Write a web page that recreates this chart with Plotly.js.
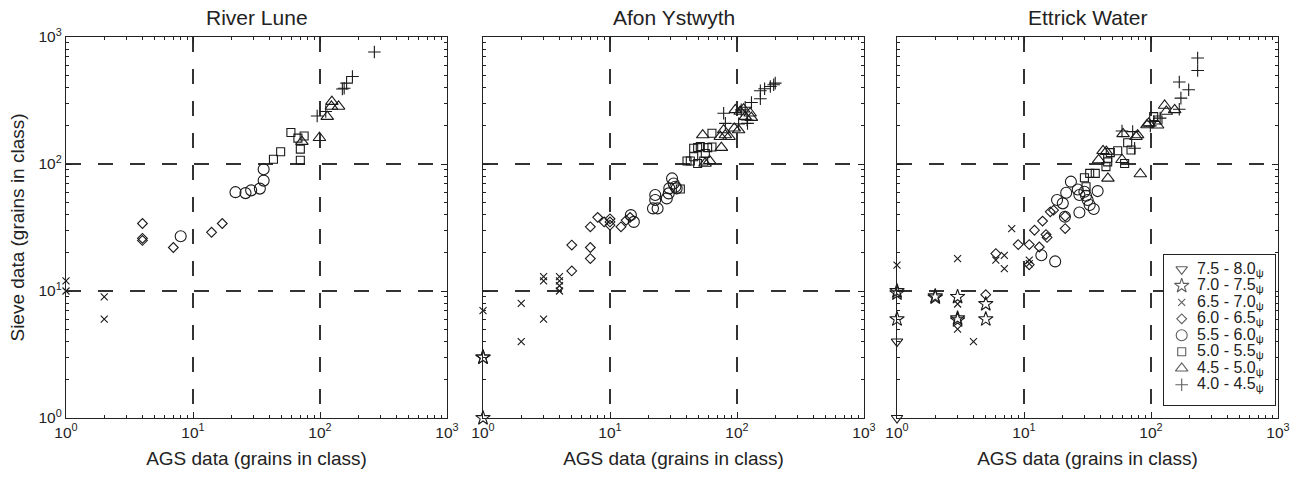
<!DOCTYPE html>
<html><head><meta charset="utf-8">
<script src="https://cdn.plot.ly/plotly-3.0.1.min.js"></script>
<style>html,body{margin:0;padding:0;background:#fff}#chart{width:1300px;height:479px}</style>
</head><body><div id="chart"></div>
<script>
// Size classes (phi) — legend order
const classes = ['7.5 - 8.0', '7.0 - 7.5', '6.5 - 7.0', '6.0 - 6.5', '5.5 - 6.0', '5.0 - 5.5', '4.5 - 5.0', '4.0 - 4.5'];
const panelTitles = ['River Lune', 'Afon Ystwyth', 'Ettrick Water'];
const tickVals = [1, 10, 100, 1000];
const tickText = ['10<sup>0</sup>', '10<sup>1</sup>', '10<sup>2</sup>', '10<sup>3</sup>'];
const minorTickVals = [2, 3, 4, 5, 6, 7, 8, 9, 20, 30, 40, 50, 60, 70, 80, 90, 200, 300, 400, 500, 600, 700, 800, 900];

// River Lune: AGS (x) vs sieve (y)
const lune_c75_x = [], lune_c75_y = [];
const lune_c70_x = [], lune_c70_y = [];
const lune_c65_x = [1, 1, 2, 2], lune_c65_y = [12, 10, 9, 6];
const lune_c60_x = [4, 4, 4, 7, 14, 17], lune_c60_y = [34, 25, 26, 22, 29, 34];
const lune_c55_x = [8, 21.6, 25.9, 28.7, 33.6, 36, 36], lune_c55_y = [27, 60, 59, 62, 64, 74, 91];
const lune_c50_x = [43, 49, 59, 67, 75, 70, 70], lune_c50_y = [109, 125, 177, 160, 166, 131, 107];
const lune_c45_x = [72, 99, 114, 124, 140, 123], lune_c45_y = [150, 161, 236, 310, 284, 284];
const lune_c40_x = [268, 180, 162, 155, 150, 95, 111], lune_c40_y = [762, 489, 433, 395, 390, 239, 259];

// Afon Ystwyth
const afon_c75_x = [], afon_c75_y = [];
const afon_c70_x = [1, 1, 1], afon_c70_y = [3, 3, 1];
const afon_c65_x = [1, 2, 2, 3, 3, 3, 4, 4, 4, 4], afon_c65_y = [7, 8, 4, 13, 12, 6, 13, 12, 11, 10];
const afon_c60_x = [5, 5, 7, 7, 7, 8, 9, 10, 10, 10, 12.2, 13.4, 14.4], afon_c60_y = [14.4, 23, 18, 22, 32, 38, 35, 35, 37, 33, 32, 36, 38];
const afon_c55_x = [15.4, 14.6, 21.8, 23.7, 22.7, 22.7, 28, 29, 29.3, 30.8, 31.7, 32.7, 33.5], afon_c55_y = [35, 39.6, 44.7, 44.7, 52, 57, 53.6, 58.7, 64.3, 77, 70.3, 66.2, 64.3];
const afon_c50_x = [35.8, 40.4, 42.9, 45.6, 45.6, 49, 51.4, 49, 54.7, 58.7, 63.5, 63.5, 56.3], afon_c50_y = [63.5, 105.6, 105.6, 114, 133, 134.6, 137, 101, 105.6, 134.6, 174.6, 136, 121];
const afon_c45_x = [53.7, 60.9, 56, 75.3, 73.9, 78.5, 80.9, 86.5, 95.3, 103, 97, 106, 116, 127, 112.7, 129.7], afon_c45_y = [169, 106, 101, 134.6, 164, 185, 169, 164, 191, 185, 267, 259, 236, 251, 270, 232];
const afon_c40_x = [78.5, 81, 103, 108, 120, 121, 116, 130, 152.7, 152.7, 165, 183, 200, 194.5], afon_c40_y = [251, 209, 207, 267, 222, 209, 280, 305, 326, 377, 391, 408, 433, 421];

// Ettrick Water
const ett_c75_x = [1, 1], ett_c75_y = [4, 1];
const ett_c70_x = [1, 1, 1, 2, 2, 3, 3, 3, 5, 5], ett_c70_y = [10, 9.6, 6, 9.1, 8.9, 9, 6.1, 5.9, 7.9, 6];
const ett_c65_x = [1, 3, 3, 3, 4, 6, 7, 7, 8, 11, 11], ett_c65_y = [16, 18, 7.9, 5, 4, 17.5, 19.1, 15, 31, 17.5, 16.4];
const ett_c60_x = [5, 6, 9, 11, 11, 12.1, 13.2, 14, 14.9, 15.2, 16.1, 17.1, 21.1, 21.1], ett_c60_y = [9.35, 19.7, 23.2, 23.2, 16.1, 30.1, 22.2, 35.5, 27.8, 26.4, 42, 43.3, 31, 38.8];
const ett_c55_x = [13.7, 17.6, 18.2, 20.2, 21.5, 21, 23.4, 26.5, 27.3, 27.3, 30.8, 31.7, 32.9, 35.4, 38, 29.9], ett_c55_y = [19.1, 17.1, 52, 49, 59.4, 38.4, 72.6, 63, 41.5, 57, 56.3, 52, 47.5, 44.2, 61.2, 60.5];
const ett_c50_x = [29.9, 32.9, 36.4, 30.8, 44.2, 45.6, 45.6, 47.8, 54.7, 62, 65.5, 69.6, 105, 113.5], ett_c50_y = [78, 84.4, 84.4, 66.2, 95.3, 104, 111, 123, 127, 101, 147, 129, 236, 222];
const ett_c45_x = [38.7, 41.9, 44.5, 45.8, 59.1, 60.3, 76.2, 78.5, 82.4, 93, 95.9, 112.7, 128, 132, 153.6], ett_c45_y = [107.6, 127, 125, 77, 108, 172.6, 164, 169, 83.4, 203, 209, 202, 289, 259, 267];
const ett_c40_x = [59.1, 71.7, 74.3, 98.8, 105, 118, 167, 198, 172, 167, 233, 233], ett_c40_y = [182, 180, 133, 199.5, 216, 229.6, 442, 384, 330, 270, 683, 545];

const panels = [
  [[lune_c75_x, lune_c75_y], [lune_c70_x, lune_c70_y], [lune_c65_x, lune_c65_y], [lune_c60_x, lune_c60_y], [lune_c55_x, lune_c55_y], [lune_c50_x, lune_c50_y], [lune_c45_x, lune_c45_y], [lune_c40_x, lune_c40_y]],
  [[afon_c75_x, afon_c75_y], [afon_c70_x, afon_c70_y], [afon_c65_x, afon_c65_y], [afon_c60_x, afon_c60_y], [afon_c55_x, afon_c55_y], [afon_c50_x, afon_c50_y], [afon_c45_x, afon_c45_y], [afon_c40_x, afon_c40_y]],
  [[ett_c75_x, ett_c75_y], [ett_c70_x, ett_c70_y], [ett_c65_x, ett_c65_y], [ett_c60_x, ett_c60_y], [ett_c55_x, ett_c55_y], [ett_c50_x, ett_c50_y], [ett_c45_x, ett_c45_y], [ett_c40_x, ett_c40_y]]
];

const symbols = ['triangle-down-open', 'star-open', 'x-thin-open', 'diamond-open', 'circle-open', 'square-open', 'triangle-up-open', 'cross-thin-open'];
const sizes = [10, 11, 7, 7.5, 11, 8, 11, 9];
const ink = '#1a1a1a';

const traces = [];
for (let c = 0; c < classes.length; c++) {
  for (let p = 0; p < 3; p++) {
    const sfx = p === 0 ? '' : String(p + 1);
    traces.push({
      type: 'scatter', mode: 'markers',
      x: panels[p][c][0], y: panels[p][c][1],
      xaxis: 'x' + sfx, yaxis: 'y' + sfx,
      name: classes[c], showlegend: false, cliponaxis: false,
      marker: { symbol: symbols[c], size: sizes[c], color: ink, line: { color: ink, width: 1.1 } }
    });
  }
}

// Legend box (its own small axes; rows laid out by class index)
const legW = 111, legH = 150, rowTop = 14.3, rowStep = 16.5, symX = 17.7, txtX = 31;
traces.push({
  type: 'scatter', mode: 'markers', xaxis: 'x4', yaxis: 'y4', showlegend: false, cliponaxis: false,
  x: classes.map(() => symX), y: classes.map((_, i) => rowTop + rowStep * i),
  marker: { symbol: symbols, size: sizes, color: ink, line: { color: ink, width: 1.1 } }
});

const font = { family: 'Arial, "Liberation Sans", sans-serif', color: '#222' };
const xd = [[66, 447], [483, 864], [897, 1278]];
const yDom = [1 - 418 / 479, 1 - 37 / 479];

function axis(base, showLabels, title, standoff) {
  const a = {
    type: 'log', range: [0, 3], showline: true, linecolor: '#222', linewidth: 1.2, mirror: 'ticks',
    ticks: 'inside', ticklen: 6, tickcolor: '#222', tickwidth: 1,
    tickmode: 'array', tickvals: tickVals, ticktext: showLabels ? tickText : ['', '', '', ''],
    tickfont: Object.assign({ size: 15.5 }, font),
    showgrid: true, gridcolor: '#333', gridwidth: 1.3, griddash: '15px,17px',
    zeroline: false, fixedrange: true,
    minor: { ticks: 'inside', ticklen: 3, tickcolor: '#222', tickwidth: 1, tickmode: 'array', tickvals: minorTickVals, showgrid: false }
  };
  if (title) a.title = { text: title, font: Object.assign({ size: 19 }, font), standoff: standoff };
  return Object.assign(a, base);
}

const layout = {
  width: 1300, height: 479,
  margin: { l: 0, r: 0, t: 0, b: 0 },
  paper_bgcolor: '#fff', plot_bgcolor: '#fff',
  font: font,
  showlegend: false,
  annotations: [],
  xaxis4: { domain: [1164 / 1300, (1164 + legW) / 1300], anchor: 'y4', range: [0, legW], showline: true, mirror: true, linecolor: '#222', linewidth: 1.2, showticklabels: false, ticks: '', showgrid: false, zeroline: false, fixedrange: true },
  yaxis4: { domain: [1 - (255 + legH) / 479, 1 - 255 / 479], anchor: 'x4', range: [legH, 0], showline: true, mirror: true, linecolor: '#222', linewidth: 1.2, showticklabels: false, ticks: '', showgrid: false, zeroline: false, fixedrange: true }
};
for (let p = 0; p < 3; p++) {
  const sfx = p === 0 ? '' : String(p + 1);
  layout['xaxis' + sfx] = axis({ domain: [xd[p][0] / 1300, xd[p][1] / 1300], anchor: 'y' + sfx }, true, 'AGS data (grains in class)', 12);
  layout['yaxis' + sfx] = axis({ domain: yDom, anchor: 'x' + sfx }, p === 0, p === 0 ? 'Sieve data (grains in class)' : null, 8);
  layout.annotations.push({
    text: panelTitles[p], xref: 'paper', yref: 'paper',
    x: (xd[p][0] + xd[p][1]) / 2 / 1300, y: 1 - 17 / 479, xanchor: 'center', yanchor: 'middle',
    showarrow: false, font: Object.assign({ size: 21 }, font)
  });
}
classes.forEach((c, i) => {
  layout.annotations.push({
    text: c + '<sub>ψ</sub>', xref: 'x4', yref: 'y4', x: txtX, y: rowTop + rowStep * i,
    xanchor: 'left', yanchor: 'middle', showarrow: false,
    font: Object.assign({ size: 16 }, font)
  });
});

Plotly.newPlot('chart', traces, layout, { staticPlot: true });
</script></body></html>
